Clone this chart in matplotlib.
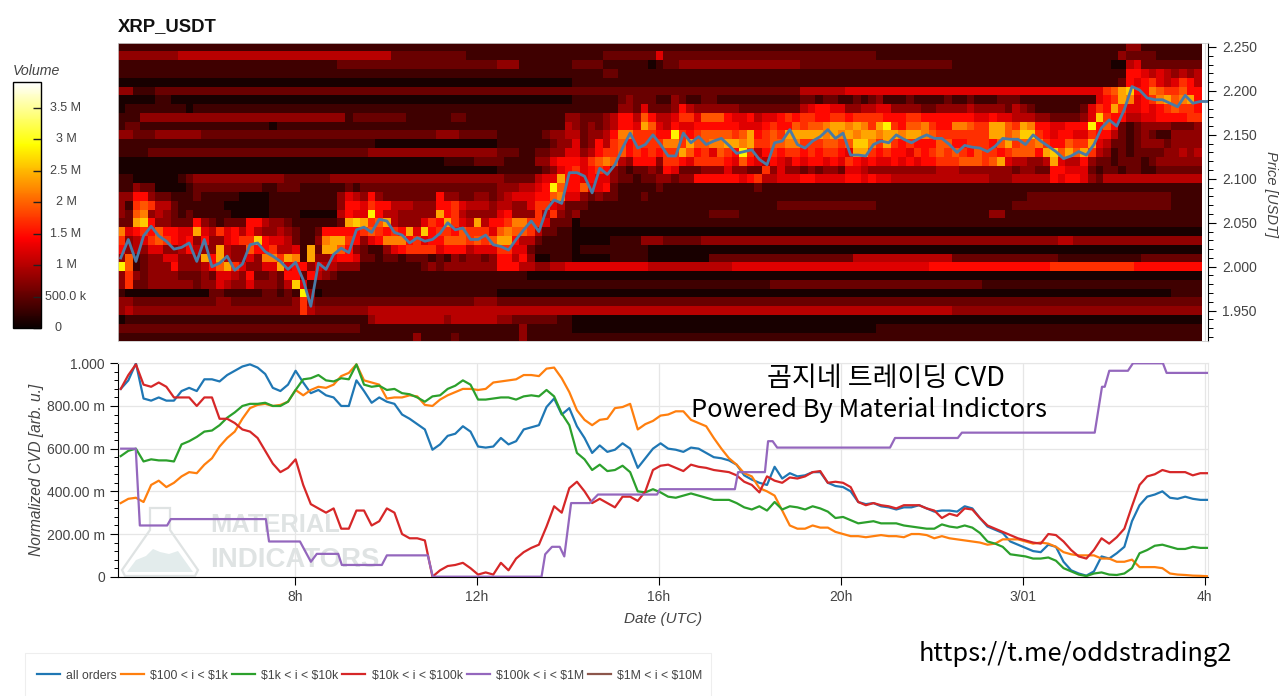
import numpy as np
import matplotlib
matplotlib.use("Agg")
import matplotlib.pyplot as plt
from matplotlib.patches import Polygon, Rectangle
from matplotlib.ticker import MultipleLocator

plt.rcParams['font.family'] = ['Liberation Sans', 'DejaVu Sans']

# volume per 10 min / 1 cent bin, one hex digit per cell, top row is 2.25
volume_rows = [
    "1111111111 1111111111 1111111111 1111111111 1111111111 1111111111 1111111111 1111111111 1111111111 1111111111 1111111111 1111111111 1111111111 1113311111 111",
    "3333333344 4444444444 4444444444 4444442222 2222221111 1111111111 1111222222 2522222222 2222222222 2222222222 1111111111 1111111111 1111111111 1132222111 111",
    "1111111111 1111111111 1111111112 2222222222 2222222222 3331111111 2222111111 0122333333 3333333333 2222222222 2222222222 1111111111 1111111111 1004522222 222",
    "1111111111 1111111111 1111111111 1111111111 1111111111 1111111111 1111221111 1111111111 1111111111 1111111111 1111111111 1111111111 1111111111 1116654543 434",
    "0000000000 0000000000 0000000000 0000000000 0000000000 0000000000 1111111111 1111111111 1111111111 1111111111 1111111111 1111111111 1111111111 1126567545 764",
    "3311122222 2222222222 2222222222 2222222222 2222222222 2222222222 2222222222 2222222222 2222222222 4444445555 5555555555 5555555555 5555555555 78ab669877 866",
    "0000011000 0000000000 0000000000 0000000000 0000000000 0000000000 1111112322 2113211221 1111111111 2212211212 3111211112 1121112221 1111111115 67a95679a8 9a6",
    "0111111110 1111111111 1111111111 1111111111 1111111111 1111111111 1111113325 2223643333 3322222222 4566553344 5533332233 3343333243 2111111257 6a75565678 776",
    "1113333333 3333333333 3333333333 1222222211 1111221111 1111111113 3222346648 6445775888 6556455676 7766776777 7666776666 6665565544 433222235b 7664455666 677",
    "1221111111 1111111111 0111111111 1111111111 1111111111 1111111114 323234665a 8546556666 6655567668 7889aa9a97 ac76889766 99877aa87a 96655666c6 8621233332 223",
    "3322233333 3222222222 2222222222 2222222222 2233322222 1111112334 4233469977 766c767888 878a6787aa aaa9a9a9aa 9aa9aa9877 77777aa89b b765665576 6421232113 333",
    "1111111111 1111111111 1111111111 1111000000 0000000000 1111111233 5236478677 77997a8899 aa9a778899 7778878bb9 7a76766688 6677768a78 89766877a5 4221233323 333",
    "1111222222 2222222222 2222222222 2223333333 3333333333 2221122335 5346778676 7677a86758 76c7467677 6767765aa7 6766576787 8768776788 86ab8a8a74 3121222233 434",
    "0000000000 0000000000 0000000000 0000000000 0001111222 2111133566 6578984366 6377657777 6586546546 5665657656 5565656677 788878a544 334a544632 2122212333 333",
    "0000000000 0000000000 0000000000 0000000000 0000000000 1111112356 7567632122 3265222333 5332273533 2323325543 3333333344 4333333323 3226655521 2212211222 222",
    "1100000012 3333333333 3322222233 3333333333 3333333333 32222455a6 6565532212 2332336666 6656744555 6655556656 5544444444 4444433344 4446566532 4444444444 444",
    "1132200001 2222222221 1222111111 2122222222 2222222222 3334456c86 6855621111 1211111111 1111211111 1111111111 1111111111 1111111111 1111111111 1111111111 111",
    "3366322111 2111110000 1111111113 5436322222 2263322332 3455566895 5323221112 1111111111 1111111111 1111111111 1111111111 1111111111 2222222222 2222222221 111",
    "3178744211 1111000000 1111111113 6657664443 3366754443 4433577542 2211111111 1111111111 1111111222 2222222222 1111111111 1111111122 2222222222 2222222221 111",
    "3289343212 1111100000 1111000004 655c644333 33a6743333 5633374732 3111111111 1111111122 2211111111 1111111111 1111111111 1111133111 1111111111 1111111111 111",
    "22ab633222 6321222664 3321111112 aba78a4333 576a754a46 6799775222 0111111111 1111111111 1111111111 1111111111 1111111111 1111111111 1111111111 1111111111 111",
    "9567686655 a547564643 3432112666 66787676a5 b677687775 8988742211 0000000000 0000000000 0000000000 0000000000 0000000000 0000000000 0000000000 0000000000 000",
    "7345787656 36335677b6 55421139aa 7635699967 5668887878 aa64421111 0000011113 3322222333 3333333333 3333333333 3333333333 3333333333 3333443333 3333333333 333",
    "6343553346 433a433866 74451a2aa8 6321135677 7756664555 7755211111 0111111111 0000000000 0000000000 0000000000 0000000000 0000000000 0000000000 0000000000 000",
    "3812335533 3a6a433539 97a91a3356 6522122122 2121323323 6646300111 0000011111 0000000022 2222222222 2222222444 4444444444 2222222222 2222111111 1111122222 222",
    "c812333633 3468a75335 5a56635443 3311111111 2323333333 6664433445 5555555555 4444444444 4555555555 5555555555 5555555666 6666666666 6667777777 7777666666 666",
    "3732333322 2325543622 3266264321 1111111111 1111111111 1111000000 0000000000 0000000000 0000000000 0000000000 0000000000 0000000000 0000000000 0000000000 000",
    "3722333333 2335433533 324b511111 1111111111 1111111111 1111111111 1111111111 1111111111 1111112222 2222222222 2222222222 2222111111 1111111111 1111111111 111",
    "1000000000 0022111112 2121c30111 1111111111 1111111111 0000000000 0000000000 0000000000 0000000000 0000000000 0000000000 0000000000 0000000000 0000000001 111",
    "3322222222 2223322222 2223732222 2222222222 2222222333 2222222222 2222222222 2222222222 2222222222 2222222222 2222222222 2222222222 2222222222 2222222222 222",
    "3433333333 3333333333 3333743333 3334444444 4444444444 4444444444 4444444444 4444444444 4444444444 4444444444 4444444444 3333333333 3333333333 3333333333 333",
    "0111111111 1111111111 1111111111 1113444444 4443444444 3322222211 0000000000 0000000000 0000000000 0000000000 0000000000 0000000000 0000000000 0000000000 000",
    "2222222222 2222222222 2222222222 2211111111 1111111111 1113111111 0000000000 0000000000 0000000000 0000000000 1111111111 1111111111 1111111111 1111111111 111",
    "1111111111 1111111111 1111111111 1111111113 1111211111 1113111111 1111111111 1111111111 1111111111 1111111111 1111111111 1111111111 1111111111 1111111111 111",
]
# what one hex step is worth, and what an empty-looking cell holds
volume_step = 0.23e6
volume_floor = 0.09e6

price = [
    2.010, 2.031, 2.006, 2.035, 2.046, 2.035, 2.029, 2.020, 2.022, 2.027, 2.006, 2.031, 2.000, 2.004, 2.012, 1.996,
    2.003, 2.025, 2.027, 2.017, 2.012, 2.006, 1.997, 2.005, 1.985, 1.955, 2.004, 1.997, 2.014, 2.021, 2.016, 2.042,
    2.045, 2.039, 2.054, 2.052, 2.039, 2.036, 2.027, 2.033, 2.029, 2.031, 2.038, 2.050, 2.042, 2.044, 2.031, 2.031,
    2.036, 2.025, 2.023, 2.019, 2.031, 2.042, 2.052, 2.040, 2.065, 2.076, 2.072, 2.107, 2.107, 2.103, 2.084, 2.112,
    2.105, 2.116, 2.135, 2.152, 2.135, 2.139, 2.150, 2.139, 2.126, 2.126, 2.152, 2.141, 2.148, 2.139, 2.143, 2.146,
    2.138, 2.129, 2.131, 2.133, 2.122, 2.116, 2.141, 2.143, 2.156, 2.139, 2.135, 2.143, 2.148, 2.156, 2.146, 2.152,
    2.127, 2.127, 2.126, 2.139, 2.143, 2.141, 2.150, 2.145, 2.141, 2.146, 2.150, 2.146, 2.146, 2.139, 2.130, 2.138,
    2.136, 2.135, 2.131, 2.137, 2.146, 2.145, 2.145, 2.139, 2.150, 2.143, 2.137, 2.131, 2.123, 2.126, 2.131, 2.127,
    2.139, 2.158, 2.167, 2.160, 2.179, 2.205, 2.201, 2.192, 2.190, 2.190, 2.186, 2.182, 2.195, 2.186, 2.188, 2.188,
]

all_orders = [
    .88, .92, 1.0, .835, .825, .84, .825, .825, .87, .885, .87, .925, .925, .915, .945, .965, .985, .995, .98, .95,
    .885, .87, .90, .965, .91, .86, .875, .85, .84, .80, .80, .92, .87, .815, .84, .82, .81, .76, .74, .715,
    .69, .595, .62, .66, .67, .705, .68, .61, .605, .61, .65, .62, .635, .69, .70, .71, .795, .835, .76, .79,
    .705, .65, .58, .615, .585, .595, .625, .60, .51, .555, .60, .625, .60, .595, .585, .605, .60, .58, .56, .555,
    .545, .525, .475, .455, .44, .43, .515, .46, .485, .47, .475, .49, .49, .44, .425, .42, .40, .35, .34, .345,
    .33, .325, .315, .325, .325, .335, .32, .305, .31, .31, .305, .33, .32, .275, .235, .22, .205, .165, .15, .135,
    .12, .115, .15, .14, .07, .03, .015, .005, .025, .095, .085, .11, .14, .26, .335, .375, .385, .40, .37, .365,
    .375, .365, .36, .36,
]
orders_100_1k = [
    .345, .365, .37, .35, .43, .45, .42, .44, .47, .49, .485, .525, .555, .61, .65, .68, .74, .79, .805, .81,
    .80, .805, .82, .875, .85, .875, .89, .885, .90, .94, .955, .995, .92, .91, .90, .835, .84, .84, .85, .845,
    .805, .80, .83, .85, .865, .88, .88, .875, .88, .91, .915, .92, .925, .945, .945, .94, .975, .98, .93, .865,
    .78, .735, .71, .735, .74, .79, .795, .81, .69, .715, .73, .755, .76, .775, .775, .735, .72, .705, .65, .60,
    .555, .525, .485, .47, .415, .40, .38, .31, .24, .225, .225, .24, .23, .23, .21, .20, .19, .19, .185, .19,
    .195, .19, .19, .185, .20, .20, .195, .18, .19, .18, .175, .17, .165, .16, .15, .155, .175, .175, .175, .165,
    .155, .16, .155, .14, .115, .105, .10, .10, .10, .085, .085, .07, .07, .08, .045, .045, .045, .04, .015, .01,
    .008, .005, .004, .002,
]
orders_1k_10k = [
    .565, .59, .60, .54, .55, .545, .545, .54, .62, .635, .655, .68, .685, .71, .745, .77, .80, .81, .81, .815,
    .80, .80, .82, .875, .925, .93, .945, .92, .915, .93, .925, .995, .90, .89, .895, .875, .88, .86, .855, .84,
    .82, .845, .85, .88, .895, .92, .90, .83, .83, .835, .84, .84, .83, .845, .85, .845, .875, .845, .765, .71,
    .58, .55, .50, .525, .495, .50, .52, .49, .40, .395, .41, .395, .375, .37, .38, .39, .38, .37, .36, .36,
    .36, .345, .325, .315, .33, .31, .35, .315, .33, .325, .315, .33, .32, .305, .275, .28, .265, .25, .255, .26,
    .25, .25, .25, .24, .235, .23, .225, .225, .245, .235, .23, .24, .23, .205, .165, .155, .14, .105, .10, .095,
    .085, .085, .09, .075, .04, .025, .01, .003, .015, .02, .01, .008, .015, .04, .11, .125, .145, .15, .14, .13,
    .13, .14, .135, .135,
]
orders_10k_100k = [
    .88, .945, .995, .90, .89, .91, .89, .84, .84, .84, .80, .84, .84, .74, .74, .72, .69, .68, .65, .59,
    .53, .49, .51, .55, .43, .34, .32, .30, .32, .225, .225, .31, .31, .24, .26, .32, .30, .20, .18, .18,
    .17, .0, .03, .05, .055, .065, .04, .01, .02, .01, .065, .03, .085, .115, .135, .15, .235, .33, .30, .415,
    .445, .40, .345, .365, .345, .325, .375, .375, .355, .40, .50, .52, .525, .51, .495, .525, .515, .51, .50, .495,
    .49, .475, .445, .43, .395, .47, .45, .44, .465, .46, .47, .49, .495, .44, .445, .44, .42, .35, .335, .345,
    .335, .33, .32, .335, .335, .335, .32, .31, .275, .295, .285, .32, .315, .275, .24, .225, .21, .195, .18, .17,
    .16, .155, .20, .195, .165, .125, .095, .085, .125, .18, .155, .185, .225, .33, .43, .47, .48, .50, .49, .49,
    .49, .475, .485, .485,
]
purple_hours = [
    4.18, 4.50, 4.59, 5.19, 5.27, 7.36, 7.43, 8.11, 8.35, 8.48, 8.95, 9.03, 9.91, 10.02, 10.92, 11.03,
    13.42, 13.50, 13.65, 13.82, 13.92, 14.07, 14.48, 14.66, 15.96, 16.02, 17.67, 17.74, 18.33, 18.40, 18.50, 18.60,
    21.08, 21.19, 22.57, 22.66, 25.58, 25.74, 25.80, 25.90, 26.31, 26.42, 27.08, 27.16, 28.07,
]
orders_100k_1m = [
    .60, .60, .24, .24, .27, .27, .165, .165, .07, .107, .107, .055, .055, .10, .10, .0,
    .0, .105, .14, .14, .095, .345, .345, .385, .385, .41, .41, .49, .49, .635, .635, .605,
    .605, .65, .65, .675, .675, .89, .89, .965, .965, 1.0, 1.0, .955, .955,
]

hour_ticks = [8, 12, 16, 20, 24, 28]
hour_labels = ["8h", "12h", "16h", "20h", "3/01", "4h"]
cvd_ticks = [0, .2, .4, .6, .8, 1.0]
cvd_labels = ["0", "200.00 m", "400.00 m", "600.00 m", "800.00 m", "1.000"]
volume_ticks = [0, .5e6, 1e6, 1.5e6, 2e6, 2.5e6, 3e6, 3.5e6]
volume_labels = ["0", "500.0 k", "1 M", "1.5 M", "2 M", "2.5 M", "3 M", "3.5 M"]
series_names = ["all orders", r"\$100 < i < \$1k", r"\$1k < i < \$10k", r"\$10k < i < \$100k",
                r"\$100k < i < \$1M", r"\$1M < i < \$10M"]
series_colors = ["#1f77b4", "#ff7f0e", "#2ca02c", "#d62728", "#9467bd", "#8c564b"]

W, H = 1280, 696
text_col = "#444444"


def box(left, top, right, bottom):
    return [left / W, 1 - bottom / H, (right - left) / W, (bottom - top) / H]


def px(x, y):
    return x / W, 1 - y / H


volume = np.array([[volume_floor + int(c, 16) * volume_step for c in r.replace(" ", "")] for r in volume_rows])
hour_edges = 4.1 + np.arange(volume.shape[1] + 1) / 6
price_edges = 2.255 - np.arange(volume.shape[0] + 1) * 0.01
line_hours = np.linspace(4.17, 28.07, len(all_orders))

fig = plt.figure(figsize=(W / 100, H / 100), dpi=100)

# heatmap pane
ax = fig.add_axes(box(118, 42.6, 1208, 341.4))
mesh = ax.pcolormesh(hour_edges, price_edges, volume, cmap="hot", vmin=0, vmax=3.91e6, rasterized=True)
ax.plot(line_hours, price, color="#4a7ba6", lw=2.0, solid_joinstyle="round")
ax.set_xlim(4.11, 28.07)
ax.set_ylim(1.915, 2.255)
ax.set_xticks(hour_ticks)
ax.set_xticklabels([])
ax.tick_params(axis="x", length=0)
ax.grid(axis="x", color="#dddddd", lw=0.8)
ax.set_axisbelow(True)
ax.yaxis.tick_right()
ax.yaxis.set_major_locator(MultipleLocator(0.05))
ax.yaxis.set_minor_locator(MultipleLocator(0.01))
ax.yaxis.set_major_formatter("{x:.3f}")
ax.tick_params(axis="y", which="major", length=6, width=0.8, labelsize=10, labelcolor=text_col, pad=4)
ax.tick_params(axis="y", which="minor", length=3.5, width=0.7)
for s in ["top", "bottom", "left"]:
    ax.spines[s].set_color("#cccccc")
    ax.spines[s].set_linewidth(0.6)
fig.text(*px(1271, 194), "Price [USDT]", rotation=270, style="italic", fontsize=10.6,
         color=text_col, ha="center", va="center")
fig.text(*px(118, 27), "XRP_USDT", fontweight="bold", fontsize=13.3, color="#111111", va="center")

# colour bar
cax = fig.add_axes(box(13, 82, 41, 328))
cb = fig.colorbar(mesh, cax=cax)
cb.set_ticks(volume_ticks)
cb.set_ticklabels([])
cb.outline.set_edgecolor("black")
cb.outline.set_linewidth(1)
cax.tick_params(direction="in", length=6, width=1, color="#222222", right=True, labelright=False)
for v, lab in zip(volume_ticks, volume_labels):
    centre = 58 if lab == "0" else 66
    cax.annotate(lab, xy=(1, v), xycoords=cax.get_yaxis_transform(), xytext=((centre - 41) * 0.72, 0),
                 textcoords="offset points", ha="center", va="center", fontsize=9, color=text_col)
fig.text(*px(13, 71), "Volume", style="italic", fontsize=10.2, color=text_col, va="center")

# CVD pane
ax2 = fig.add_axes(box(118, 363.3, 1208, 576.7))
for vals, col in zip([all_orders, orders_100_1k, orders_1k_10k, orders_10k_100k], series_colors):
    ax2.plot(line_hours, vals, color=col, lw=1.6, zorder=3, solid_joinstyle="round")
ax2.plot(purple_hours, orders_100k_1m, color=series_colors[4], lw=1.6, zorder=3)
ax2.plot([], [], color=series_colors[5], lw=1.6)
ax2.set_xlim(4.11, 28.07)
ax2.set_ylim(0, 1)
ax2.set_xticks(hour_ticks)
ax2.set_xticklabels(hour_labels)
ax2.set_yticks(cvd_ticks)
ax2.set_yticklabels(cvd_labels)
ax2.yaxis.set_minor_locator(MultipleLocator(0.04))
ax2.grid(color="#e6e6e6", lw=0.9)
ax2.set_axisbelow(True)
ax2.tick_params(axis="both", which="major", length=5.5, width=0.8, labelsize=10, labelcolor=text_col, pad=4)
ax2.tick_params(axis="y", which="minor", length=3, width=0.7)
for s in ["top", "right"]:
    ax2.spines[s].set_color("#e6e6e6")
fig.text(*px(663, 619), "Date (UTC)", style="italic", fontsize=11, color=text_col, ha="center", va="center")
fig.text(*px(37, 470), "Normalized CVD [arb. u.]", style="italic", rotation=90, fontsize=11.2,
         color=text_col, ha="center", va="center")

# watermark behind the lines
wm = "#dfe3e3"
flask = [px(*p) for p in [(150, 508), (170, 508), (170, 530), (198, 570), (195, 576), (125, 576), (122, 570), (150, 530)]]
hills = [px(*p) for p in [(127, 572), (136, 560), (146, 556), (153, 549), (160, 552), (169, 554), (178, 551), (193, 572)]]
ax2.add_patch(Polygon(flask, closed=True, fill=False, edgecolor=wm, lw=1.6, transform=fig.transFigure, zorder=1, clip_on=False))
ax2.add_patch(Polygon(hills, closed=True, facecolor="#e3ecec", edgecolor="none", transform=fig.transFigure, zorder=1, clip_on=False))
ax2.text(*px(210, 525), "MATERIAL", fontweight="bold", fontsize=18.4, color=wm, va="center",
         transform=fig.transFigure, zorder=1)
ax2.text(*px(210, 560), "INDICATORS", fontweight="bold", fontsize=19.9, color=wm, va="center",
         transform=fig.transFigure, zorder=1)

# overlaid captions
cjk = ["Noto Sans CJK KR", "DejaVu Sans"]
fig.text(*px(886, 378.5), "곰지네 트레이딩 CVD", family=cjk, fontsize=19.5, fontweight="medium", color="black", ha="center", va="center", zorder=5)
fig.text(*px(869, 410), "Powered By Material Indictors", family=cjk, fontsize=18.3, fontweight="medium", color="black", ha="center", va="center", zorder=5)
fig.text(*px(1075, 654), "https://t.me/oddstrading2", family=cjk, fontsize=18.3, fontweight="medium", color="black", ha="center", va="center", zorder=5)

# legend, its frame runs off the bottom of the picture
fig.add_artist(Rectangle(px(25, 699), 686 / W, 46 / H, transform=fig.transFigure, facecolor="white", edgecolor="#eeeeee", lw=0.8))
handles = ax2.get_lines()
leg = fig.legend(handles, series_names, ncol=6, loc="lower left", bbox_to_anchor=px(25, 694),
                 borderaxespad=0, frameon=False, fontsize=8.8, labelcolor=text_col,
                 handlelength=1.88, handletextpad=0.5, columnspacing=0.33, borderpad=1.0)

fig.savefig("out.png", dpi=100)
